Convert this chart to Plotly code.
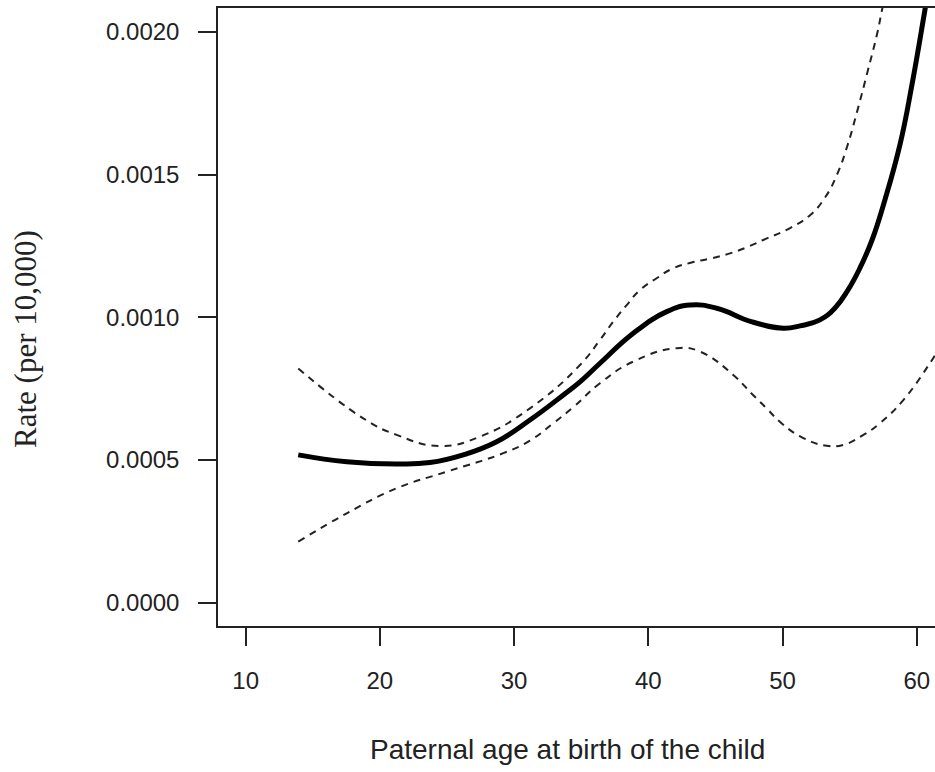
import plotly.graph_objects as go

# Fitted rate curve (solid)
fit_age = [13.92, 17.53, 21.25, 23.73, 26.21, 28.70, 31.18, 33.67, 34.91, 36.40, 38.88,
           41.37, 43.11, 45.10, 47.67, 50.06, 51.30, 52.79, 53.91, 54.88, 55.77, 56.67,
           57.63, 58.75, 59.64, 60.61, 61.36]
fit_rate = [0.000518, 0.000494, 0.000486, 0.000491, 0.000518, 0.000564, 0.000640, 0.000728,
            0.000774, 0.000839, 0.000944, 0.001020, 0.001043, 0.001032, 0.000985, 0.000962,
            0.000970, 0.000991, 0.001033, 0.001096, 0.001173, 0.001271, 0.001412, 0.001605,
            0.001814, 0.002077, 0.002287]

# Upper confidence band (dashed)
up_age = [13.92, 18.76, 21.25, 24.48, 27.46, 31.18, 34.91, 36.40, 37.39, 38.39, 39.38,
          40.62, 41.86, 43.23, 44.72, 46.08, 47.57, 48.56, 50.56, 52.05, 53.17, 54.06,
          54.81, 55.59, 56.33, 57.08, 57.41, 57.79]
up_rate = [0.000821, 0.000646, 0.000588, 0.000549, 0.000582, 0.000681, 0.000833, 0.000921,
           0.000985, 0.001043, 0.001096, 0.001137, 0.001172, 0.001192, 0.001207, 0.001224,
           0.001250, 0.001271, 0.001313, 0.001358, 0.001420, 0.001500, 0.001598, 0.001727,
           0.001860, 0.002000, 0.002077, 0.002154]

# Lower confidence band (dashed)
lo_age = [13.92, 17.53, 21.25, 24.98, 29.20, 31.18, 32.92, 34.41, 36.40, 38.88, 42.12,
          43.85, 46.33, 47.67, 48.82, 49.82, 51.55, 53.29, 54.53, 56.02, 57.26, 59.00,
          60.98, 61.40]
lo_rate = [0.000214, 0.000313, 0.000401, 0.000459, 0.000524, 0.000568, 0.000629, 0.000685,
           0.000769, 0.000845, 0.000892, 0.000880, 0.000798, 0.000734, 0.000681, 0.000633,
           0.000577, 0.000550, 0.000553, 0.000588, 0.000629, 0.000710, 0.000839, 0.000870]

x_ticks = [10, 20, 30, 40, 50, 60]
y_ticks = [0.0, 0.0005, 0.0010, 0.0015, 0.0020]
y_tick_labels = ["0.0000", "0.0005", "0.0010", "0.0015", "0.0020"]

fig = go.Figure()
fig.add_trace(go.Scatter(x=up_age, y=up_rate, mode="lines", line_shape="spline",
                         line=dict(color="#222", width=2, dash="7px,6px", smoothing=1.3),
                         showlegend=False))
fig.add_trace(go.Scatter(x=lo_age, y=lo_rate, mode="lines", line_shape="spline",
                         line=dict(color="#222", width=2, dash="7px,6px", smoothing=1.3),
                         showlegend=False))
fig.add_trace(go.Scatter(x=fit_age, y=fit_rate, mode="lines", line_shape="spline",
                         line=dict(color="black", width=5, smoothing=1.3), showlegend=False))

tick_font = dict(family="Liberation Sans, Arial, sans-serif", size=24, color="#222")

fig.update_layout(
    width=935, height=772,
    margin=dict(l=218, r=0, t=8, b=146),
    paper_bgcolor="white", plot_bgcolor="white",
    xaxis=dict(range=[7.94, 61.36], tickvals=x_ticks, ticks="outside", ticklen=18,
               tickwidth=1.5, tickcolor="#222", showline=True, linecolor="#222",
               linewidth=1.5, mirror=True, showgrid=False, zeroline=False,
               tickfont=tick_font, ticklabelstandoff=14),
    yaxis=dict(range=[-0.0000817, 0.002084], tickvals=y_ticks, ticktext=y_tick_labels,
               ticks="outside", ticklen=18, tickwidth=1.5, tickcolor="#222",
               showline=True, linecolor="#222", linewidth=1.5, mirror=False,
               showgrid=False, zeroline=False, tickfont=tick_font, ticklabelstandoff=14),
    annotations=[
        dict(text="Paternal age at birth of the child", xref="paper", yref="paper",
             x=0.4875, y=-0.2006, xanchor="center", yanchor="middle", showarrow=False,
             font=dict(family="Liberation Sans, Arial, sans-serif", size=28, color="#222")),
        dict(text="Rate (per 10,000)", xref="paper", yref="paper",
             x=-0.2692, y=0.4644, xanchor="center", yanchor="middle", showarrow=False,
             textangle=-90,
             font=dict(family="Liberation Serif, Times New Roman, serif", size=31, color="#222")),
    ],
)

fig.write_html("out.html", config={"displayModeBar": False},
               post_script="document.body.style.margin='0';document.body.style.overflow='hidden';")
